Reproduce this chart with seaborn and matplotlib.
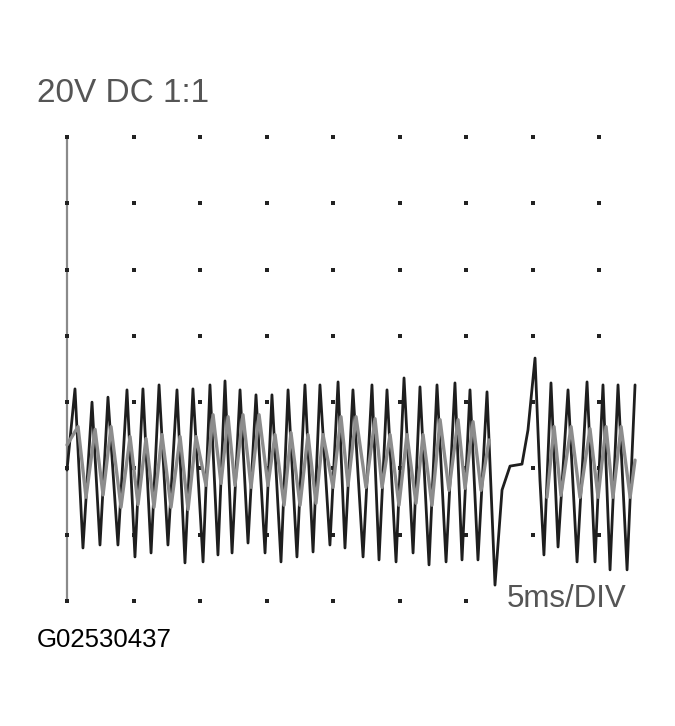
import numpy as np
import pandas as pd
import matplotlib
matplotlib.use("Agg")
import matplotlib.pyplot as plt
import seaborn as sns

# scope settings
volts_per_div = 20
ms_per_div = 5
n_xdiv = 8
n_ydiv = 7

# dark trace: time (ms) and level (V)
dark_t = [0.00, 0.60, 1.20, 1.88, 2.48, 3.08, 3.83, 4.51, 5.11, 5.71, 6.32, 6.92,
          7.59, 8.27, 8.87, 9.47, 10.23, 10.75, 11.35, 11.88, 12.41, 13.01, 13.61,
          14.21, 14.89, 15.41, 16.09, 16.62, 17.29, 17.89, 18.50, 19.02, 19.77,
          20.38, 20.90, 21.50, 22.26, 22.93, 23.46, 24.06, 24.74, 25.34, 26.02,
          26.54, 27.22, 27.82, 28.50, 29.17, 29.70, 30.30, 30.90, 31.58, 32.18,
          32.71, 33.31, 34.21, 34.66, 35.19, 35.56, 35.86, 36.39, 36.92, 37.67,
          38.35, 39.10, 39.70, 40.30, 40.83, 41.43, 42.11, 42.71]
dark_v = [39.5, 64.0, 16.0, 60.0, 16.9, 61.5, 16.9, 63.7, 13.3, 64.0, 14.5, 65.2,
          16.9, 63.7, 11.5, 64.0, 11.8, 65.2, 13.9, 66.4, 14.5, 63.7, 17.5,
          62.2, 14.5, 62.2, 11.8, 63.7, 13.3, 65.2, 14.8, 65.2, 16.9,
          66.1, 16.0, 63.7, 13.3, 65.2, 12.4, 63.7, 11.8, 67.3, 14.5,
          64.6, 10.9, 65.2, 11.8, 65.8, 12.4, 63.7, 12.4, 63.1, 4.8,
          33.5, 40.7, 41.3, 51.6, 73.3, 36.5, 13.9, 65.8, 16.3, 63.7,
          11.8, 66.1, 11.8, 65.2, 9.4, 65.2, 9.4, 65.2]

# light trace (two pieces, broken around the glitch)
light_t = [0.00, 0.83, 1.43, 2.11, 2.71, 3.31, 4.06, 4.74, 5.34, 5.94, 6.54, 7.14,
           7.82, 8.50, 9.10, 9.70, 10.45, 10.98, 11.58, 12.11, 12.63, 13.23, 13.84,
           14.44, 15.11, 15.64, 16.32, 16.84, 17.52, 18.12, 18.72, 19.25, 20.00,
           20.60, 21.13, 21.73, 22.48, 23.16, 23.69, 24.29, 24.96, 25.56, 26.24,
           26.77, 27.44, 28.05, 28.72, 29.40, 29.93, 30.53, 31.13, 31.73,
           36.09, 36.62, 37.14, 37.90, 38.57, 39.32, 39.93, 40.53, 41.05, 41.66,
           42.34, 42.71]
light_v = [47.1, 52.6, 31.3, 51.8, 32.0, 52.6, 28.3, 49.6, 29.1, 49.0, 28.3, 50.2,
           28.3, 49.6, 27.6, 49.6, 34.9, 56.2, 35.5, 55.6, 34.9, 56.2, 34.3,
           56.2, 34.9, 50.2, 28.9, 50.8, 28.9, 50.2, 29.5, 50.2, 34.3,
           55.6, 34.9, 55.6, 34.3, 55.0, 34.3, 50.2, 28.9, 50.2, 29.5,
           50.2, 28.9, 54.7, 33.4, 54.7, 34.0, 54.1, 33.4, 48.6,
           31.3, 52.6, 31.9, 52.6, 31.3, 52.0, 31.3, 52.6, 31.3, 52.6,
           31.3, 42.5]
light_piece = [0] * 52 + [1] * 12

dark = pd.DataFrame({"t": dark_t, "v": dark_v})
light = pd.DataFrame({"t": light_t, "v": light_v, "piece": light_piece})

# graticule dots
gx, gy = np.meshgrid(np.arange(n_xdiv + 1) * ms_per_div,
                     np.arange(n_ydiv + 1) * volts_per_div)
grid = pd.DataFrame({"t": gx.ravel(), "v": gy.ravel()})

sns.set_style("white")
fig = plt.figure(figsize=(6.75, 7.26), dpi=100)

# axes box in pixels: left 55, right 650, top 125, bottom 615
W, H = 675, 726
ax = fig.add_axes([55 / W, (H - 615) / H, 595 / W, 490 / H])
px_x = n_xdiv * ms_per_div / (599 - 67)
px_y = n_ydiv * volts_per_div / (601 - 137)
ax.set_xlim((55 - 67) * px_x, (650 - 67) * px_x)
ax.set_ylim((601 - 615) * px_y, (601 - 125) * px_y)

ax.plot([0, 0], [0, n_ydiv * volts_per_div], color="#8a8a8a", lw=1.6, zorder=1)
sns.scatterplot(data=grid, x="t", y="v", marker="s", s=5, color="#222222",
                linewidth=0, ax=ax, zorder=2)

sns.lineplot(data=dark, x="t", y="v", sort=False, estimator=None,
             color="#1e1e1e", lw=2.0, ax=ax, zorder=3)
sns.lineplot(data=light, x="t", y="v", units="piece", sort=False, estimator=None,
             color="#8c8c8c", lw=2.4, ax=ax, zorder=4)

ax.set_axis_off()

fig.text(37 / W, (H - 102) / H, "20V DC 1:1", fontsize=24, color="#555555",
         family="Liberation Sans", va="baseline")
fig.text(507 / W, (H - 607) / H, "5ms/DIV", fontsize=22.5, color="#555555",
         family="Liberation Sans", va="baseline", zorder=10,
         bbox=dict(facecolor="white", edgecolor="none", pad=1))
fig.text(37 / W, (H - 647) / H, "G02530437", fontsize=18.5, color="black",
         family="Liberation Sans", va="baseline")

fig.savefig("out.png", dpi=100, facecolor="white")
